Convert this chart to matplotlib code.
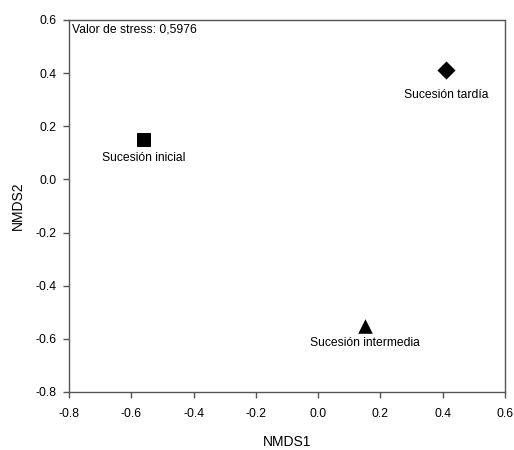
import matplotlib
matplotlib.use("Agg")
import matplotlib.pyplot as plt
from matplotlib.ticker import FormatStrFormatter

plt.rcParams['font.family'] = ['Liberation Sans', 'DejaVu Sans']

groups = ["Sucesión inicial", "Sucesión tardía", "Sucesión intermedia"]
nmds1 = [-0.56, 0.41, 0.15]
nmds2 = [0.15, 0.41, -0.55]
markers = ["s", "D", "^"]
marker_sizes = [90, 85, 110]
label_offsets = [-9, -13, -8]
stress_text = "Valor de stress: 0,5976"
ticks = [-0.8, -0.6, -0.4, -0.2, 0.0, 0.2, 0.4, 0.6]

fig = plt.figure(figsize=(5.14, 4.5), dpi=100)
ax = fig.add_axes([69/514, 1 - 392/450, (505 - 69)/514, (392 - 20)/450])

for x, y, m, ms, dy, name in zip(nmds1, nmds2, markers, marker_sizes, label_offsets, groups):
    ax.scatter([x], [y], marker=m, s=ms, color="black", linewidths=0, zorder=3)
    ax.annotate(name, (x, y), xytext=(0, dy), textcoords="offset points",
                ha="center", va="top", fontsize=8.7)

ax.text(0.006, 0.99, stress_text, transform=ax.transAxes, ha="left", va="top", fontsize=8.7)

ax.set_xlim(-0.8, 0.6)
ax.set_ylim(-0.8, 0.6)
ax.set_xticks(ticks)
ax.set_yticks(ticks)
ax.xaxis.set_major_formatter(FormatStrFormatter('%.1f'))
ax.yaxis.set_major_formatter(FormatStrFormatter('%.1f'))
ax.tick_params(direction="out", length=4, width=1, color="#555555", labelsize=8.7)
ax.tick_params(axis="x", pad=7.5)
ax.tick_params(axis="y", pad=5)
for s in ax.spines.values():
    s.set_color("#555555")
    s.set_linewidth(1)

ax.set_xlabel("NMDS1", fontsize=10, labelpad=11)
ax.set_ylabel("NMDS2", fontsize=10, labelpad=8)

fig.savefig("out.png", dpi=100)
